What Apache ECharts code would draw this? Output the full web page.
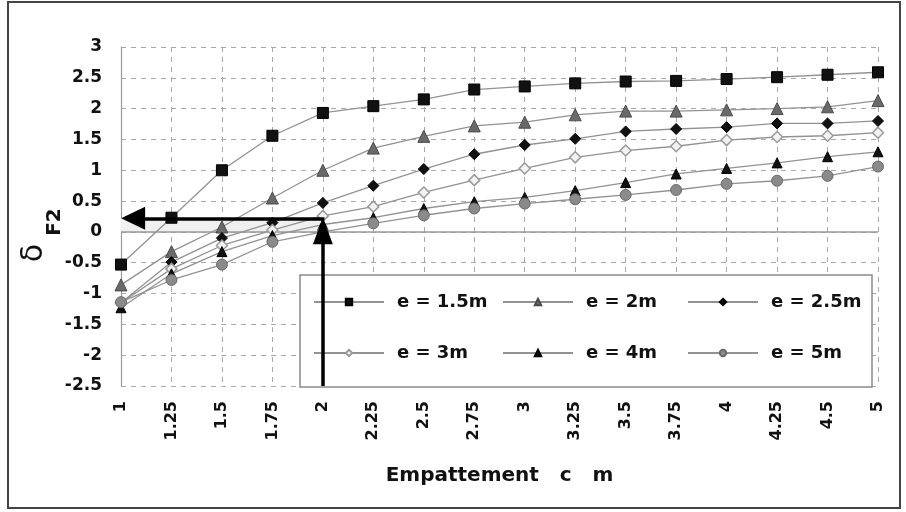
<!DOCTYPE html>
<html>
<head>
<meta charset="utf-8">
<script src="https://cdn.jsdelivr.net/npm/echarts@6/dist/echarts.min.js"></script>
<style>html,body{margin:0;padding:0;background:#fff}#c{width:906px;height:512px}</style>
</head>
<body>
<div id="c"></div>
<script>
const categories = ['1','1.25','1.5','1.75','2','2.25','2.5','2.75','3','3.25','3.5','3.75','4','4.25','4.5','5'];
const seriesNames = ['e = 1.5m','e = 2m','e = 2.5m','e = 3m','e = 4m','e = 5m'];
const e15 = [-0.53,0.23,1.0,1.56,1.93,2.04,2.15,2.31,2.36,2.41,2.44,2.45,2.48,2.51,2.55,2.59];
const e2  = [-0.86,-0.32,0.08,0.55,1.0,1.36,1.55,1.72,1.78,1.90,1.96,1.96,1.98,2.0,2.03,2.13];
const e25 = [-1.15,-0.49,-0.10,0.15,0.47,0.75,1.02,1.26,1.41,1.51,1.63,1.67,1.70,1.76,1.76,1.80];
const e3  = [-1.15,-0.60,-0.22,0.03,0.26,0.41,0.64,0.84,1.03,1.21,1.32,1.39,1.49,1.54,1.56,1.61];
const e4  = [-1.23,-0.68,-0.32,-0.06,0.12,0.23,0.38,0.49,0.56,0.67,0.80,0.94,1.03,1.12,1.22,1.30];
const e5  = [-1.14,-0.78,-0.53,-0.16,0.00,0.14,0.27,0.38,0.46,0.53,0.60,0.68,0.78,0.83,0.91,1.06];
const yTicks = {min: -2.5, max: 3, interval: 0.5};
// reading guide (arrow) in category-index / value space
const guideX = 4;      // index of "2"
const guideY = 0.22;   // read-off value

const FONT = 'DejaVu Sans';
const lineCol = '#929292';

const styles = [
  {symbol:'rect', size:11, color:'#111', border:'#000', bw:1},
  {symbol:'triangle', size:12, color:'#6a6a6a', border:'#4a4a4a', bw:1},
  {symbol:'diamond', size:11, color:'#111', border:'#000', bw:1},
  {symbol:'diamond', size:11, color:'#f2f2f2', border:'#9a9a9a', bw:1.5},
  {symbol:'triangle', size:10, color:'#111', border:'#000', bw:1},
  {symbol:'circle', size:11, color:'#8a8a8a', border:'#6a6a6a', bw:1}
];
const values = [e15, e2, e25, e3, e4, e5];

const series = values.map((v, i) => ({
  name: seriesNames[i],
  type: 'line',
  data: v,
  symbol: styles[i].symbol,
  symbolSize: styles[i].size,
  showAllSymbol: true,
  lineStyle: {color: lineCol, width: 1.3},
  itemStyle: {color: styles[i].color, borderColor: styles[i].border, borderWidth: styles[i].bw},
  z: 2 + i * 0.01,
  animation: false
}));

// zero line
series[0].markLine = {
  silent: true, symbol: ['none','none'], z: 2, animation: false,
  label: {show: false},
  lineStyle: {type: 'solid', color: '#9a9a9a', width: 1.5},
  data: [{yAxis: 0}]
};

// arrows on hidden value axis
series.push({
  name: 'guide',
  type: 'line',
  xAxisIndex: 1,
  data: [],
  animation: false,
  markArea: {
    silent: true, z: 1,
    itemStyle: {color: '#f0f0f0'},
    data: [[{coord: [0, 0]}, {coord: [guideX, guideY]}]]
  },
  markLine: {
    silent: true, z: 10, animation: false,
    label: {show: false},
    lineStyle: {type: 'solid', color: '#000', width: 3.5},
    data: [
      [{coord: [guideX + 0.03, guideY], symbol: 'none'},
       {coord: [0.24, guideY], symbol: 'triangle', symbolSize: [23, 24]}],
      [{coord: [guideX, -2.5], symbol: 'none'},
       {coord: [guideX, guideY - 13/61.6], symbol: 'triangle', symbolSize: [20, 26]}]
    ]
  }
});

const legendPos = [[313,293],[502,293],[687,293],[313,344],[502,344],[687,344]];
const legends = seriesNames.map((n, i) => ({
  data: [n],
  left: legendPos[i][0], top: legendPos[i][1],
  padding: 0,
  itemWidth: 70, itemHeight: 8,
  selectedMode: false,
  textStyle: {fontFamily: FONT, fontWeight: 'bold', fontSize: 18, color: '#111', padding: [0,0,0,8]}
}));

const chart = echarts.init(document.getElementById('c'), null, {renderer: 'canvas'});
chart.setOption({
  animation: false,
  backgroundColor: '#fff',
  grid: {left: 121, right: 28, top: 47, bottom: 126},
  legend: legends,
  xAxis: [{
    type: 'category',
    data: categories,
    boundaryGap: false,
    axisLine: {show: false},
    axisTick: {show: false},
    axisLabel: {rotate: 90, margin: 15, fontFamily: FONT, fontWeight: 'bold', fontSize: 16, color: '#111', interval: 0},
    splitLine: {show: true, lineStyle: {type: [5, 5], color: '#a8a8a8', width: 1}},
    name: 'Empattement   c   m',
    nameLocation: 'middle',
    nameGap: 80,
    nameTextStyle: {fontFamily: FONT, fontWeight: 'bold', fontSize: 20, color: '#111'}
  }, {
    type: 'value', min: 0, max: categories.length - 1, show: false
  }],
  yAxis: {
    type: 'value',
    min: yTicks.min, max: yTicks.max, interval: yTicks.interval,
    axisLine: {show: true, onZero: false, lineStyle: {color: '#9a9a9a', width: 1.2}},
    axisTick: {show: false},
    axisLabel: {margin: 19, fontFamily: FONT, fontWeight: 'bold', fontSize: 17, color: '#111'},
    splitLine: {show: true, lineStyle: {type: [5, 5], color: '#a8a8a8', width: 1}}
  },
  graphic: [
    {type: 'rect', z: 0, shape: {x: 8, y: 2, width: 892, height: 506},
     style: {fill: 'none', stroke: '#444', lineWidth: 2}},
    {type: 'rect', z: 3, shape: {x: 300, y: 275, width: 572, height: 112},
     style: {fill: '#fff', stroke: '#8a8a8a', lineWidth: 1.5}},
    {type: 'text', z: 5, x: 34, y: 253, rotation: Math.PI / 2,
     style: {text: 'δ', fontFamily: FONT, fontSize: 30, fill: '#111', align: 'center', verticalAlign: 'middle', textAlign: 'center', textVerticalAlign: 'middle'}},
    {type: 'text', z: 5, x: 55, y: 222, rotation: Math.PI / 2,
     style: {text: 'F2', fontFamily: FONT, fontWeight: 'bold', fontSize: 20, fill: '#111', align: 'center', verticalAlign: 'middle', textAlign: 'center', textVerticalAlign: 'middle'}}
  ],
  series: series
});
</script>
</body>
</html>
